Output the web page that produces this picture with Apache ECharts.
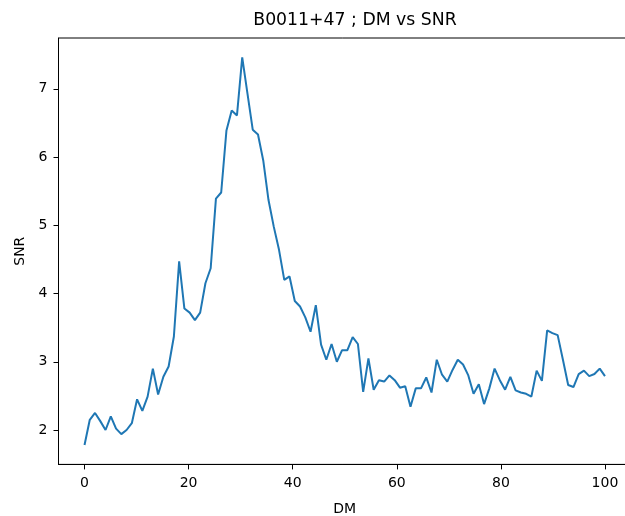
<!DOCTYPE html>
<html>
<head>
<meta charset="utf-8">
<script src="https://cdn.jsdelivr.net/npm/echarts@6/dist/echarts.min.js"></script>
<style>
html,body{margin:0;padding:0;background:#fff;overflow:hidden;}
#chart{width:625px;height:516px;}
</style>
</head>
<body>
<div id="chart"></div>
<script>
const dmValues = [0, 1.01, 2.02, 3.03, 4.04, 5.05, 6.06, 7.07, 8.08, 9.09,
  10.10, 11.11, 12.12, 13.13, 14.14, 15.15, 16.16, 17.17, 18.18, 19.19,
  20.20, 21.21, 22.22, 23.23, 24.24, 25.25, 26.26, 27.27, 28.28, 29.29,
  30.30, 31.31, 32.32, 33.33, 34.34, 35.35, 36.36, 37.37, 38.38, 39.39,
  40.40, 41.41, 42.42, 43.43, 44.44, 45.45, 46.46, 47.47, 48.48, 49.49,
  50.51, 51.52, 52.53, 53.54, 54.55, 55.56, 56.57, 57.58, 58.59, 59.60,
  60.61, 61.62, 62.63, 63.64, 64.65, 65.66, 66.67, 67.68, 68.69, 69.70,
  70.71, 71.72, 72.73, 73.74, 74.75, 75.76, 76.77, 77.78, 78.79, 79.80,
  80.81, 81.82, 82.83, 83.84, 84.85, 85.86, 86.87, 87.88, 88.89, 89.90,
  90.91, 91.92, 92.93, 93.94, 94.95, 95.96, 96.97, 97.98, 98.99, 100];

const snrValues = [1.78, 2.15, 2.25, 2.13, 2.00, 2.20, 2.02, 1.94, 2.00, 2.10,
  2.45, 2.28, 2.49, 2.90, 2.52, 2.78, 2.93, 3.37, 4.47, 3.78,
  3.72, 3.61, 3.72, 4.15, 4.37, 5.39, 5.48, 6.39, 6.68, 6.61,
  7.46, 6.93, 6.40, 6.33, 5.95, 5.37, 4.98, 4.64, 4.20, 4.25,
  3.89, 3.81, 3.65, 3.44, 3.83, 3.25, 3.03, 3.26, 3.00, 3.17,
  3.17, 3.36, 3.26, 2.56, 3.05, 2.59, 2.73, 2.71, 2.80, 2.73,
  2.62, 2.64, 2.34, 2.61, 2.61, 2.77, 2.55, 3.03, 2.81, 2.71,
  2.88, 3.03, 2.96, 2.80, 2.53, 2.67, 2.38, 2.61, 2.90, 2.73,
  2.59, 2.78, 2.58, 2.55, 2.53, 2.49, 2.87, 2.72, 3.46, 3.42,
  3.39, 3.03, 2.66, 2.63, 2.82, 2.87, 2.79, 2.82, 2.90, 2.79];

const xTicks = [0, 20, 40, 60, 80, 100];
const yTicks = [2, 3, 4, 5, 6, 7];

const titleText = 'B0011+47 ; DM vs SNR';
const xName = 'DM';
const yName = 'SNR';

const font = 'DejaVu Sans';
const seriesData = dmValues.map((d, i) => [d, snrValues[i]]);

const chart = echarts.init(document.getElementById('chart'), null, {renderer: 'canvas'});
chart.setOption({
  animation: false,
  backgroundColor: '#ffffff',
  title: {
    text: titleText,
    left: 355,
    top: 12,
    padding: 0,
    textAlign: 'center',
    textStyle: {fontFamily: font, fontSize: 17.3, fontWeight: 'normal', color: '#000'}
  },
  grid: {
    left: 58.5,
    right: -6,
    top: 38,
    bottom: 51.6,
    show: true,
    borderColor: '#000',
    borderWidth: 1,
    backgroundColor: 'transparent',
    containLabel: false,
    outerBoundsMode: 'none'
  },
  xAxis: {
    type: 'value',
    min: -5,
    max: 105,
    name: xName,
    nameLocation: 'middle',
    nameGap: 38,
    nameTextStyle: {fontFamily: font, fontSize: 14, color: '#000'},
    axisLine: {show: true, onZero: false, lineStyle: {color: '#000', width: 1}},
    axisTick: {show: true, inside: false, length: 5, customValues: xTicks, lineStyle: {color: '#000', width: 1}},
    axisLabel: {show: true, customValues: xTicks, margin: 12, fontFamily: font, fontSize: 14, color: '#000'},
    splitLine: {show: false}
  },
  yAxis: {
    type: 'value',
    min: 1.496,
    max: 7.744,
    name: yName,
    nameLocation: 'middle',
    nameGap: 29,
    nameRotate: 90,
    nameTextStyle: {fontFamily: font, fontSize: 14, color: '#000'},
    axisLine: {show: true, onZero: false, lineStyle: {color: '#000', width: 1}},
    axisTick: {show: true, inside: false, length: 5, customValues: yTicks, lineStyle: {color: '#000', width: 1}},
    axisLabel: {show: true, customValues: yTicks, margin: 11, fontFamily: font, fontSize: 14, color: '#000'},
    splitLine: {show: false}
  },
  series: [{
    type: 'line',
    data: seriesData,
    showSymbol: false,
    symbol: 'none',
    lineStyle: {color: '#1f77b4', width: 2},
    itemStyle: {color: '#1f77b4'}
  }]
});
</script>
</body>
</html>
